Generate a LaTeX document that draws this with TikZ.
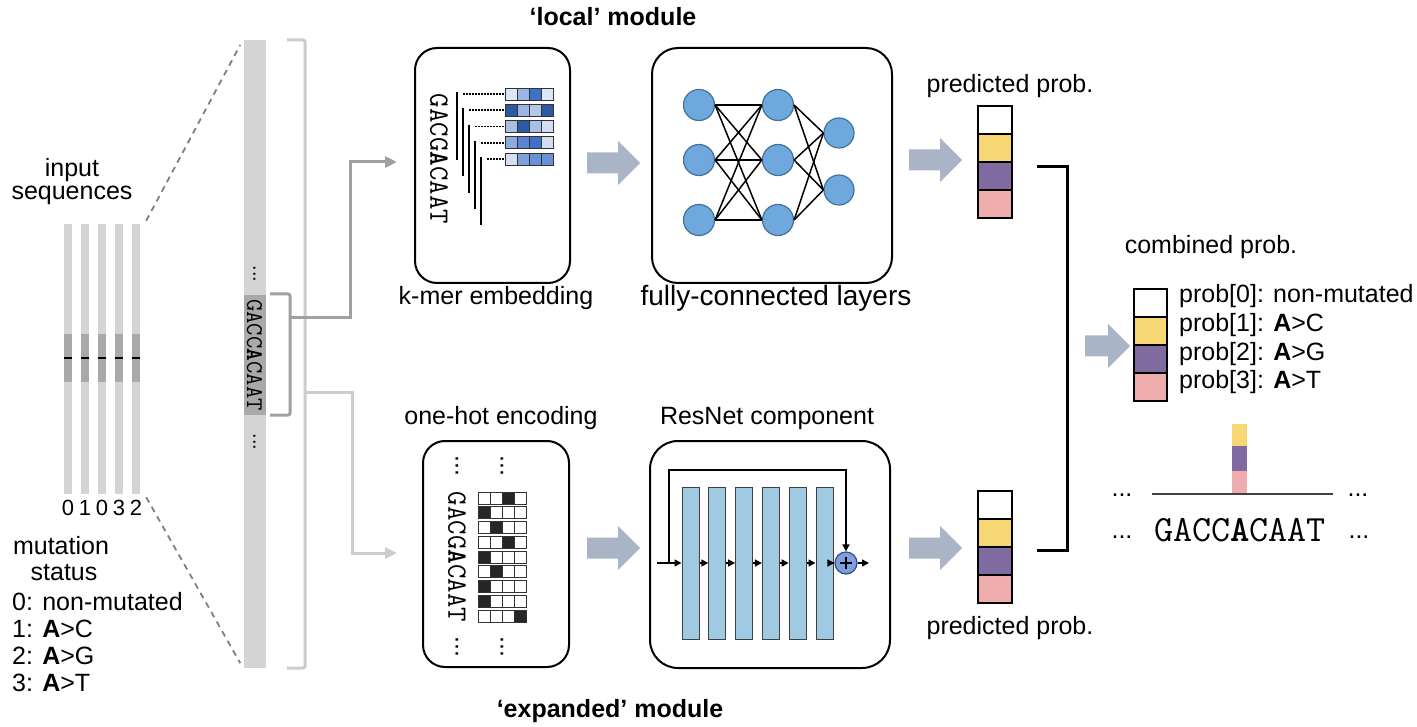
\documentclass[tikz,border=0pt]{standalone}
\usepackage{fontspec}
\setmainfont{Liberation Sans}
\usetikzlibrary{arrows.meta,calc}
\definecolor{stripeL}{HTML}{D4D4D4}
\definecolor{stripeD}{HTML}{A9A9A9}
\definecolor{brkL}{HTML}{CCCCCC}
\definecolor{brkD}{HTML}{A0A0A0}
\definecolor{blockc}{HTML}{AAB4C7}
\definecolor{nodefill}{HTML}{6FA8DC}
\definecolor{nodeedge}{HTML}{41719C}
\definecolor{resfill}{HTML}{9FCAE1}
\definecolor{plusfill}{HTML}{7F9FDA}
\definecolor{plusedge}{HTML}{2F4A8A}
\definecolor{pyel}{HTML}{F7D774}
\definecolor{ppur}{HTML}{7F6B9F}
\definecolor{ppink}{HTML}{EFACAC}
\definecolor{kba}{HTML}{DCE6F7}
\definecolor{kbb}{HTML}{B6C8EA}
\definecolor{kbc}{HTML}{9AB4E3}
\definecolor{kbd}{HTML}{7E9FDC}
\definecolor{kbe}{HTML}{5B85D0}
\definecolor{kbf}{HTML}{3F71C6}
\definecolor{kbg}{HTML}{2C5AA3}
\definecolor{kbh}{HTML}{A9BFE7}
\definecolor{kbi}{HTML}{D3DEF3}
\definecolor{kbj}{HTML}{8EAAE0}
\definecolor{kbk}{HTML}{6A90D6}
\begin{document}
\begin{tikzpicture}[x=1pt,y=-1pt,
  txt/.style={font=\fontsize{25}{28}\selectfont, inner sep=0pt},
  ttl/.style={font=\fontsize{25}{28}\selectfont\bfseries, inner sep=0pt},
  seqt/.style={inner sep=0pt},
  dotsv/.style={font=\fontsize{25}{28}\selectfont, inner sep=0pt, rotate=-90},
  roundbox/.style={draw, line width=2pt, inner sep=0pt},
  stripe/.style={fill=stripeL, minimum width=8pt, minimum height=270pt, inner sep=0pt},
  nn/.style={circle, fill=nodefill, draw=nodeedge, line width=1.2pt, minimum size=31pt, inner sep=0pt},
  fcline/.style={line width=1.5pt},
  resbar/.style={fill=resfill, draw=black!75, line width=1pt, minimum width=17pt, minimum height=152pt, inner sep=0pt},
  resarr/.style={line width=1.5pt, -{Triangle[length=7pt,width=7pt]}},
  pcell/.style={draw=black, line width=2pt, minimum width=34pt, minimum height=28pt, inner sep=0pt},
  sq/.style={draw=black!80, line width=0.9pt, minimum size=12pt, inner sep=0pt},
  conD/.style={brkD, line width=3pt, -{Triangle[length=12pt,width=11pt]}},
  conL/.style={brkL, line width=3pt, -{Triangle[length=12pt,width=11pt]}},
  pics/barrow/.style={code={\fill[blockc] (0,-10.5) -- (#1,-10.5) -- (#1,-22) -- ({#1+22},0) -- (#1,22) -- (#1,10.5) -- (0,10.5) -- cycle;}}
]
\fill[white] (0,0) rectangle (1417,727);
\useasboundingbox (0,0) rectangle (1417,727);

% titles
\node[ttl] (tlocal) at (613,17) {‘local’ module};
\node[ttl] (texp) at (610,711) {‘expanded’ module};

% left: input sequences
\node[txt] (inp1) at (72,170) {input};
\node[txt] (inp2) at (72,195) {sequences};
\foreach \i/\n in {0/0,1/1,2/0,3/3,4/2}{
  \node[stripe] (s\i) at ({68+17*\i},359) {};
  \fill[stripeD] ({64+17*\i},334) rectangle ({72+17*\i},382);
  \draw[line width=2pt] ({64+17*\i},358) -- ({72+17*\i},358);
  \node[txt, font=\fontsize{22}{24}\selectfont] (n\i) at ({68+17*\i},508) {\n};
}
\node[txt] (mut1) at (61,546) {mutation};
\node[txt] (mut2) at (64,573) {status};
\node[txt,anchor=west] (l0) at (12,602) {0: non-mutated};
\node[txt,anchor=west] (l1) at (12,629) {1: \textbf{A}>C};
\node[txt,anchor=west] (l2) at (12,656) {2: \textbf{A}>G};
\node[txt,anchor=west] (l3) at (12,683) {3: \textbf{A}>T};

% zoomed bar
\node[fill=stripeL, minimum width=22pt, minimum height=628pt, inner sep=0pt] (bar) at (254.5,354) {};
\node[fill=stripeD, minimum width=22pt, minimum height=120pt, inner sep=0pt] (win) at (254.5,355) {};
\node[seqt, rotate=-90, font=\ttfamily\fontsize{24}{24}\selectfont] (wseq) at (win.center) {GACC\textbf{A}CAAT};
\node[dotsv, font=\fontsize{20}{20}\selectfont] (bd1) at (254.5,274) {...};
\node[dotsv, font=\fontsize{20}{20}\selectfont] (bd2) at (254.5,442) {...};

\draw[gray, line width=1.8pt, dash pattern=on 6pt off 5pt] ($(s4.north east)+(6,-3)$) -- ($(bar.north west)+(-3,5)$);
\draw[gray, line width=1.8pt, dash pattern=on 6pt off 5pt] ($(s4.south east)+(6,3)$) -- ($(bar.south west)+(-3,-5)$);

% brackets and connectors
\draw[brkL, line width=3pt, rounded corners=2pt] (287,40) -- (305,40) -- (305,668) -- (287,668);
\draw[brkD, line width=3pt, rounded corners=2pt] (270,294) -- (290,294) -- (290,415) -- (270,415);
\coordinate (ibr) at (290,318);
\coordinate (obr) at (305,393);
\coordinate (kin) at (397,162);
\coordinate (oin) at (397,553);
\draw[conL] (obr) -| ($(oin)+(-45,0)$) -- (oin);
\draw[conD] (ibr) -| ($(kin)+(-47,0)$) -- (kin);

% k-mer embedding box
\node[roundbox, rounded corners=22pt, minimum width=155pt, minimum height=235pt] (kbox) at (492.5,165.5) {};
\node[txt] (kcap) at (496,298) {k-mer embedding};
\node[seqt, rotate=-90, font=\ttfamily\fontsize{28}{28}\selectfont] (kseq) at (439,159) {GACG\textbf{A}CAAT};
\foreach \i in {0,...,4}{
  \draw[line width=2pt] ({457+6*\i},{92+16.3*\i}) -- ({457+6*\i},{160+16.3*\i});
  \draw[line width=1.6pt, dash pattern=on 1.6pt off 1.4pt] ({463+6*\i},{94+16.3*\i}) -- (504,{94+16.3*\i});
}
\foreach \i/\ca/\cb/\cc/\cd in {0/kba/kbc/kbf/kba,1/kbg/kbc/kbb/kbg,2/kbh/kbg/kbh/kbi,3/kbj/kbe/kbf/kbi,4/kbi/kbd/kbk/kbk}{
  \foreach \j/\c in {0/\ca,1/\cb,2/\cc,3/\cd}{
    \node[sq, fill=\c] (k\i\j) at ({511+12*\j},{94+16.3*\i}) {};
  }
}

% fully-connected box
\node[roundbox, rounded corners=26pt, minimum width=240pt, minimum height=235pt] (fbox) at (772,165.5) {};
\node[txt, font=\fontsize{28}{30}\selectfont] (fcap) at (776,298) {fully-connected layers};
\foreach \i/\y in {1/105,2/160,3/220} \node[nn] (a\i) at (699,\y) {};
\foreach \i/\y in {1/105,2/160,3/220} \node[nn] (b\i) at (778,\y) {};
\foreach \i/\y in {1/133,2/190} \node[nn, minimum size=30pt] (c\i) at (839,\y) {};
\foreach \i in {1,2,3}{\foreach \j in {1,2,3} \draw[fcline] (a\i.east) -- (b\j.west);}
\foreach \i in {1,2,3}{\foreach \j in {1,2} \draw[fcline] (b\i.east) -- (c\j.west);}

% one-hot box
\node[roundbox, rounded corners=22pt, minimum width=146pt, minimum height=226pt] (obox) at (496,554) {};
\node[txt] (ocap) at (501,418) {one-hot encoding};
\node[seqt, rotate=-90, font=\ttfamily\fontsize{28}{28}\selectfont] (oseq) at (457,557) {GACG\textbf{A}CAAT};
\foreach \i/\h in {0/2,1/0,2/1,3/2,4/0,5/1,6/0,7/0,8/3}{
  \foreach \j in {0,...,3}{
    \ifnum\j=\h \def\fc{black!85}\else\def\fc{white}\fi
    \node[sq, fill=\fc] (o\i\j) at ({484+12*\j},{498+14.75*\i}) {};
  }
}
\node[dotsv] (od1) at (457,466) {...};
\node[dotsv] (od2) at (502,466) {...};
\node[dotsv] (od3) at (457,647) {...};
\node[dotsv] (od4) at (502,647) {...};

% ResNet box
\node[roundbox, rounded corners=28pt, minimum width=240pt, minimum height=227pt] (resbox) at (770,554.5) {};
\node[txt] (rcap) at (767,418) {ResNet component};
\foreach \i in {1,...,6} \node[resbar] (r\i) at ({690.5+26.8*(\i-1)},563) {};
\node[circle, fill=plusfill, draw=plusedge, line width=1.2pt, minimum size=22pt, inner sep=0pt] (plus) at (846,563) {};
\draw[line width=1.5pt] ($(plus.center)+(-6,0)$) -- ($(plus.center)+(6,0)$) ($(plus.center)+(0,-6)$) -- ($(plus.center)+(0,6)$);
\coordinate (rin) at (657,563);
\coordinate (rout) at (869,563);
\coordinate (sk) at (669,563);
\coordinate (skt) at (846,470);
\draw[resarr] (rin) -- (r1.west);
\foreach \i/\j in {1/2,2/3,3/4,4/5,5/6} \draw[resarr] (r\i.east) -- (r\j.west);
\draw[resarr] (r6.east) -- (plus.west);
\draw[resarr] (plus.east) -- (rout);
\draw[resarr] (sk) |- (skt) -- (plus.north);

% block arrows
\pic (ar1) at (587,163) {barrow=31};
\pic (ar2) at (587,548) {barrow=31};
\pic (ar3) at (909,160) {barrow=31};
\pic (ar4) at (909,548) {barrow=31};
\pic (ar5) at (1085,346) {barrow=23};

% predicted probabilities
\foreach \k/\c in {0/white,1/pyel,2/ppur,3/ppink}{
  \node[pcell, fill=\c] (pt\k) at (995,{120+28*\k}) {};
  \node[pcell, fill=\c] (pb\k) at (995,{505+28*\k}) {};
}
\node[txt] (ptl) at (1010,86) {predicted prob.};
\node[txt] (pbl) at (1010,628) {predicted prob.};
\coordinate (bt) at (1037,167);
\coordinate (bb) at (1037,550);
\draw[line width=3pt] (bt) -- ++(30,0) |- (bb);

% combined
\node[txt] (ctl) at (1211,247) {combined prob.};
\node[pcell, minimum width=33pt, fill=white] (cc0) at (1150.5,303) {};
\node[pcell, minimum width=33pt, fill=pyel] (cc1) at (1150.5,331) {};
\node[pcell, minimum width=33pt, fill=ppur] (cc2) at (1150.5,359) {};
\node[pcell, minimum width=33pt, fill=ppink] (cc3) at (1150.5,387) {};
\node[txt, anchor=west] (cl0) at (1179,296) {prob[0]: non-mutated};
\node[txt, anchor=west] (cl1) at (1179,325) {prob[1]: \textbf{A}>C};
\node[txt, anchor=west] (cl2) at (1179,354) {prob[2]: \textbf{A}>G};
\node[txt, anchor=west] (cl3) at (1179,382) {prob[3]: \textbf{A}>T};

\node[fill=pyel, minimum width=15pt, minimum height=22pt, inner sep=0pt] (sb1) at (1239.5,435) {};
\node[fill=ppur, minimum width=15pt, minimum height=25pt, inner sep=0pt] (sb2) at (1239.5,458.5) {};
\node[fill=ppink, minimum width=15pt, minimum height=23pt, inner sep=0pt] (sb3) at (1239.5,482.5) {};
\coordinate (gl) at (1152,494);
\coordinate (gr) at (1333,494);
\draw[black!75, line width=1.5pt] (gl) -- (gr);
\node[txt] (d1) at (1122,495) {...};
\node[txt] (d2) at (1358,495) {...};
\node[seqt, font=\ttfamily\fontsize{37}{37}\selectfont] (cseq) at (1240,530) {GACC\textbf{A}CAAT};
\node[txt] (d3) at (1122,537) {...};
\node[txt] (d4) at (1359,537) {...};
\end{tikzpicture}
\end{document}
